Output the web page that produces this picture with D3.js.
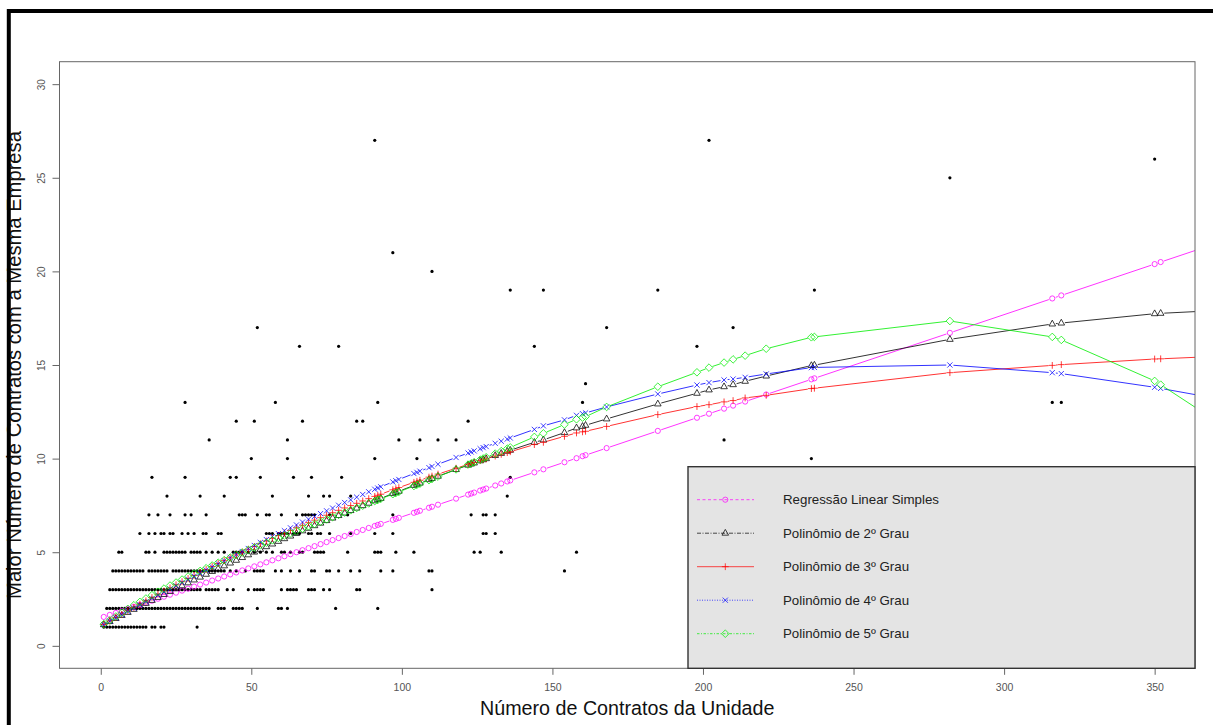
<!DOCTYPE html>
<html>
<head>
<meta charset="utf-8">
<script src="https://cdn.jsdelivr.net/npm/d3@7"></script>
<style>
  body { margin: 0; background: #fff; }
  svg { display: block; }
  text { font-family: "Liberation Sans", Arial, sans-serif; }
</style>
</head>
<body>
<svg id="chart" width="1213" height="725"></svg>
<script>
// ---- Observed units: x positions of the points on each integer level of y ----
const row1X  = [1,2,3,4,5,6,7,8,9,10,11,12,13,14,15,17,18,20,21,32];
const row2X  = [2,3,4,5,6,7,8,9,10,11,12,13,14,15,16,17,18,19,20,21,22,23,24,25,26,27,28,29,30,31,32,33,34,35,36,39,40,41,44,45,46,47,52,59,60,62,78,92];
const row3X  = [3,4,5,6,7,8,9,10,11,12,13,14,15,16,17,18,19,20,21,22,23,24,25,26,27,28,29,30,31,32,33,35,36,37,38,39,42,44,49,51,52,53,54,60,62,63,64,65,69,70,71,74,76,85,86,110];
const row4X  = [4,5,6,7,8,9,10,11,12,13,14,16,17,18,19,20,21,22,24,25,26,27,28,29,30,31,32,33,34,36,37,38,39,40,41,43,45,48,51,52,53,54,58,60,63,66,70,71,75,76,79,83,86,93,97,109,110,154];
const row5X  = [6,7,15,16,18,21,22,23,24,25,26,27,28,30,31,32,33,35,37,39,41,44,45,46,47,49,51,53,55,57,60,61,63,66,67,71,72,73,74,82,91,92,93,98,104,124,126,133,158];
const row6X  = [13,16,18,20,21,23,24,27,29,31,34,35,39,40,55,56,57,59,60,61,62,64,65,66,69,70,72,73,76,83,91,97,127,128,131];
const row7X  = [16,19,23,28,30,35,46,47,48,52,55,56,60,65,67,68,69,70,71,76,82,97,123,127,128,131];
const row8X  = [22,33,41,57,69,74,76,83,135];
const row9X  = [17,28,43,45,53,64,70,80,136];
const row10X = [50,62,91,105,236];
const row11X = [36,62,99,106,112,118,207];
const row12X = [45,51,67,85,87,122];
const row13X = [28,58,92,160,316,319];
const row14X = [161];
const row16X = [66,79,144,198];
const row17X = [52,168,210];
const row19X = [136,147,185,237];
const row20X = [110];
const row21X = [97];
const row25X = [282];
const row26X = [350];
const row27X = [91,202];

// ---- Fitted values of the five regressions at the evaluated x positions ----
const fitX = [1,3,5,7,9,11,13,15,17,19,21,23,25,27,29,31,33,35,37,39,41,43,45,47,49,51,53,55,57,59,61,63,65,67,69,71,73,75,77,79,81,83,85,87,89,91,
  92,93,97,98,99,104,105,106,109,110,112,118,122,123,124,126,127,128,131,133,135,136,144,147,154,158,160,161,168,185,198,202,207,210,214,221,236,237,282,316,319,350,352,372];

const fitLinear = [1.544,1.652,1.760,1.868,1.976,2.084,2.192,2.300,2.408,2.516,2.624,2.732,2.840,2.948,3.056,3.164,3.272,3.380,3.488,3.596,3.704,3.812,3.920,4.028,4.136,4.244,4.352,4.460,4.568,4.676,4.784,4.892,5.000,5.108,5.216,5.324,5.432,5.540,5.648,5.756,5.864,5.972,6.080,6.188,6.296,6.404,
  6.458,6.512,6.728,6.782,6.836,7.106,7.160,7.214,7.376,7.430,7.538,7.862,8.078,8.132,8.186,8.294,8.348,8.402,8.564,8.672,8.780,8.834,9.266,9.428,9.806,10.022,10.130,10.184,10.562,11.480,12.182,12.398,12.668,12.830,13.046,13.424,14.234,14.288,16.718,18.554,18.716,20.390,20.498,21.578];

const fitPoly2 = [1.133,1.297,1.461,1.624,1.786,1.948,2.108,2.268,2.427,2.585,2.743,2.899,3.055,3.210,3.364,3.518,3.670,3.822,3.973,4.123,4.273,4.421,4.569,4.716,4.862,5.008,5.152,5.296,5.439,5.581,5.723,5.863,6.003,6.142,6.280,6.418,6.554,6.690,6.825,6.959,7.093,7.225,7.357,7.488,7.618,7.748,
  7.812,7.876,8.131,8.194,8.257,8.569,8.631,8.693,8.876,8.937,9.058,9.416,9.651,9.709,9.767,9.883,9.940,9.997,10.168,10.280,10.392,10.447,10.87,11.00,11.39,11.64,11.72,11.78,12.12,12.92,13.49,13.67,13.84,13.95,14.13,14.41,14.97,14.99,16.37,17.19,17.24,17.74,17.76,17.92];

const fitPoly3 = [1.143,1.326,1.509,1.692,1.875,2.054,2.229,2.404,2.579,2.754,2.925,3.092,3.260,3.427,3.594,3.758,3.917,4.077,4.237,4.396,4.552,4.704,4.856,5.008,5.160,5.308,5.453,5.598,5.743,5.888,6.029,6.167,6.305,6.442,6.580,6.714,6.845,6.976,7.107,7.238,7.365,7.489,7.613,7.737,7.861,7.982,
  8.041,8.099,8.335,8.393,8.452,8.733,8.789,8.845,9.011,9.067,9.172,9.487,9.691,9.741,9.790,9.889,9.939,9.988,10.134,10.227,10.320,10.367,10.75,10.87,11.19,11.37,11.43,11.46,11.72,12.35,12.78,12.88,13.03,13.10,13.24,13.38,13.74,13.76,14.59,14.98,15.02,15.32,15.33,15.47];

const fitPoly4 = [1.138,1.313,1.487,1.662,1.837,2.010,2.183,2.356,2.528,2.701,2.872,3.042,3.212,3.381,3.551,3.719,3.885,4.052,4.218,4.384,4.548,4.711,4.874,5.036,5.199,5.359,5.518,5.676,5.834,5.993,6.149,6.302,6.456,6.610,6.763,6.914,7.063,7.211,7.359,7.508,7.654,7.797,7.940,8.083,8.226,8.363,
  8.428,8.494,8.754,8.820,8.885,9.202,9.265,9.328,9.517,9.580,9.700,10.060,10.296,10.354,10.412,10.528,10.586,10.644,10.817,10.931,11.045,11.102,11.56,11.75,12.07,12.31,12.40,12.44,12.76,13.45,13.93,14.06,14.20,14.25,14.34,14.52,14.86,14.87,15.00,14.59,14.54,13.81,13.75,13.17];

const fitPoly5 = [1.159,1.363,1.567,1.772,1.976,2.168,2.348,2.529,2.709,2.889,3.059,3.220,3.381,3.541,3.702,3.855,4.001,4.147,4.292,4.438,4.579,4.714,4.849,4.984,5.119,5.250,5.378,5.507,5.635,5.763,5.889,6.013,6.137,6.260,6.384,6.507,6.629,6.752,6.874,6.996,7.118,7.240,7.362,7.484,7.606,7.729,
  7.790,7.852,8.099,8.161,8.222,8.535,8.598,8.660,8.848,8.911,9.039,9.423,9.681,9.746,9.811,9.942,10.007,10.072,10.268,10.401,10.533,10.599,11.16,11.35,11.82,12.10,12.19,12.24,12.76,13.84,14.61,14.86,15.13,15.30,15.50,15.87,16.48,16.50,17.35,16.50,16.34,14.15,13.95,11.84];

const seriesNames = ["Regressão Linear Simples", "Polinômio de 2º Grau", "Polinômio de 3º Grau", "Polinômio de 4º Grau", "Polinômio de 5º Grau"];
const xTicks = [0, 50, 100, 150, 200, 250, 300, 350];
const yTicks = [0, 5, 10, 15, 20, 25, 30];

// ---- Layout ----
const W = 1213, H = 725;
const box = { left: 59.5, right: 1195, top: 61.7, bottom: 668.3 };

const x = d3.scaleLinear().domain([-13.7, 363.4]).range([box.left, box.right]);
const y = d3.scaleLinear().domain([-1.2, 31.2]).range([box.bottom, box.top]);

const svg = d3.select("#chart");
svg.append("rect").attr("width", W).attr("height", H).attr("fill", "#fff");

svg.append("defs").append("clipPath").attr("id", "plot-clip")
  .append("rect")
  .attr("x", box.left).attr("y", box.top)
  .attr("width", box.right - box.left).attr("height", box.bottom - box.top);

const plot = svg.append("g").attr("clip-path", "url(#plot-clip)");

// ---- Scatter of observations ----
const rows = [
  [1, row1X], [2, row2X], [3, row3X], [4, row4X], [5, row5X], [6, row6X], [7, row7X],
  [8, row8X], [9, row9X], [10, row10X], [11, row11X], [12, row12X], [13, row13X],
  [14, row14X], [16, row16X], [17, row17X], [19, row19X], [20, row20X], [21, row21X],
  [25, row25X], [26, row26X], [27, row27X]
];
const points = rows.flatMap(([yv, xs]) => xs.map(xv => ({ x: xv, y: yv })));

plot.append("g").selectAll("circle").data(points).join("circle")
  .attr("cx", d => x(d.x)).attr("cy", d => y(d.y))
  .attr("r", 1.6).attr("fill", "#000");

// ---- Fitted curves (points joined by segments that stop short of each marker) ----
const fits = [
  { name: seriesNames[0], values: fitLinear, color: "#ff00ff", shape: "circle",   dash: "3,2.5" },
  { name: seriesNames[1], values: fitPoly2,  color: "#000000", shape: "triangle", dash: "4,1.5,1,1.5" },
  { name: seriesNames[2], values: fitPoly3,  color: "#ff0000", shape: "plus",     dash: null },
  { name: seriesNames[3], values: fitPoly4,  color: "#0000ff", shape: "cross",    dash: "1,1.5" },
  { name: seriesNames[4], values: fitPoly5,  color: "#00ee00", shape: "diamond",  dash: "2.5,1.5,1,1.5" }
];

function markerPath(shape) {
  switch (shape) {
    case "circle":   return "M2.6,0A2.6,2.6 0 1,1 -2.6,0A2.6,2.6 0 1,1 2.6,0Z";
    case "triangle": return "M0,-3.8L3.3,2L-3.3,2Z";
    case "plus":     return "M-3.4,0L3.4,0M0,-3.4L0,3.4";
    case "cross":    return "M-2.6,-2.6L2.6,2.6M-2.6,2.6L2.6,-2.6";
    case "diamond":  return "M0,-3.8L3.8,0L0,3.8L-3.8,0Z";
  }
}

const gap = 3.6;
function gappedPath(pts) {
  let d = "";
  for (let i = 0; i < pts.length - 1; i++) {
    const [x0, y0] = pts[i], [x1, y1] = pts[i + 1];
    const dx = x1 - x0, dy = y1 - y0, L = Math.hypot(dx, dy);
    if (L <= 2 * gap) continue;
    const ux = dx / L, uy = dy / L;
    d += `M${x0 + ux * gap},${y0 + uy * gap}L${x1 - ux * gap},${y1 - uy * gap}`;
  }
  return d;
}

fits.forEach(f => {
  const pts = fitX.map((xv, i) => [x(xv), y(f.values[i])]);
  const g = plot.append("g");
  g.append("path").attr("d", gappedPath(pts))
    .attr("fill", "none").attr("stroke", f.color).attr("stroke-width", 1).attr("stroke-opacity", 0.8);
  g.selectAll("path.m").data(pts).join("path").attr("class", "m")
    .attr("transform", d => `translate(${d[0]},${d[1]})`)
    .attr("d", markerPath(f.shape))
    .attr("fill", "none").attr("stroke", f.color).attr("stroke-width", 0.9).attr("stroke-opacity", 0.85);
});

// ---- Axes ----
const axisColor = "#666", labelColor = "#555";

const yAxis = svg.append("g").attr("transform", `translate(${box.left},0)`)
  .call(d3.axisLeft(y).tickValues(yTicks).tickSize(7).tickSizeOuter(0));
yAxis.select(".domain").remove();
yAxis.selectAll(".tick line").attr("stroke", axisColor);
yAxis.selectAll(".tick text")
  .attr("transform", "rotate(-90)")
  .attr("x", 0).attr("y", -17.8).attr("dy", "0.35em")
  .attr("text-anchor", "middle")
  .attr("fill", labelColor).attr("font-size", 10);

const xAxis = svg.append("g").attr("transform", `translate(0,${box.bottom})`)
  .call(d3.axisBottom(x).tickValues(xTicks).tickSize(6.5).tickSizeOuter(0));
xAxis.select(".domain").remove();
xAxis.selectAll(".tick line").attr("stroke", axisColor);
xAxis.selectAll(".tick text")
  .attr("y", 22.4).attr("dy", 0)
  .attr("fill", labelColor).attr("font-size", 10.5);

// plot frame
svg.append("rect")
  .attr("x", box.left).attr("y", box.top)
  .attr("width", box.right - box.left).attr("height", box.bottom - box.top)
  .attr("fill", "none").attr("stroke", "#666").attr("stroke-width", 1);

// axis titles
svg.append("text")
  .attr("x", (box.left + box.right) / 2).attr("y", 715)
  .attr("text-anchor", "middle").attr("font-size", 19.7).attr("fill", "#111")
  .text("Número de Contratos da Unidade");

svg.append("text")
  .attr("transform", `translate(21,${(box.top + box.bottom) / 2}) rotate(-90)`)
  .attr("text-anchor", "middle").attr("font-size", 20.2).attr("fill", "#111")
  .text("Maior Número de Contratos com a Mesma Empresa");

// ---- Legend ----
const legend = svg.append("g");
legend.append("rect")
  .attr("x", 688).attr("y", 466.7)
  .attr("width", box.right - 688).attr("height", box.bottom - 466.7)
  .attr("fill", "#e4e4e4").attr("stroke", "#333").attr("stroke-width", 1.4);

const legendRowY = d3.scaleLinear().domain([0, 4]).range([499.7, 633.7]);
fits.forEach((f, i) => {
  const ly = legendRowY(i);
  legend.append("line")
    .attr("x1", 697).attr("x2", 754).attr("y1", ly).attr("y2", ly)
    .attr("stroke", f.color).attr("stroke-width", 1).attr("stroke-opacity", 0.7)
    .attr("stroke-dasharray", f.dash);
  legend.append("path")
    .attr("transform", `translate(725.3,${ly})`)
    .attr("d", markerPath(f.shape))
    .attr("fill", "none").attr("stroke", f.color).attr("stroke-width", 0.9).attr("stroke-opacity", 0.8);
  legend.append("text")
    .attr("x", 783).attr("y", ly).attr("dy", "0.36em")
    .attr("font-size", 13.3).attr("fill", "#222")
    .text(f.name);
});

// outer black border of the figure
svg.append("rect")
  .attr("x", 8.8).attr("y", 11).attr("width", 1300).attr("height", 800)
  .attr("fill", "none").attr("stroke", "#000").attr("stroke-width", 4);
</script>
</body>
</html>
